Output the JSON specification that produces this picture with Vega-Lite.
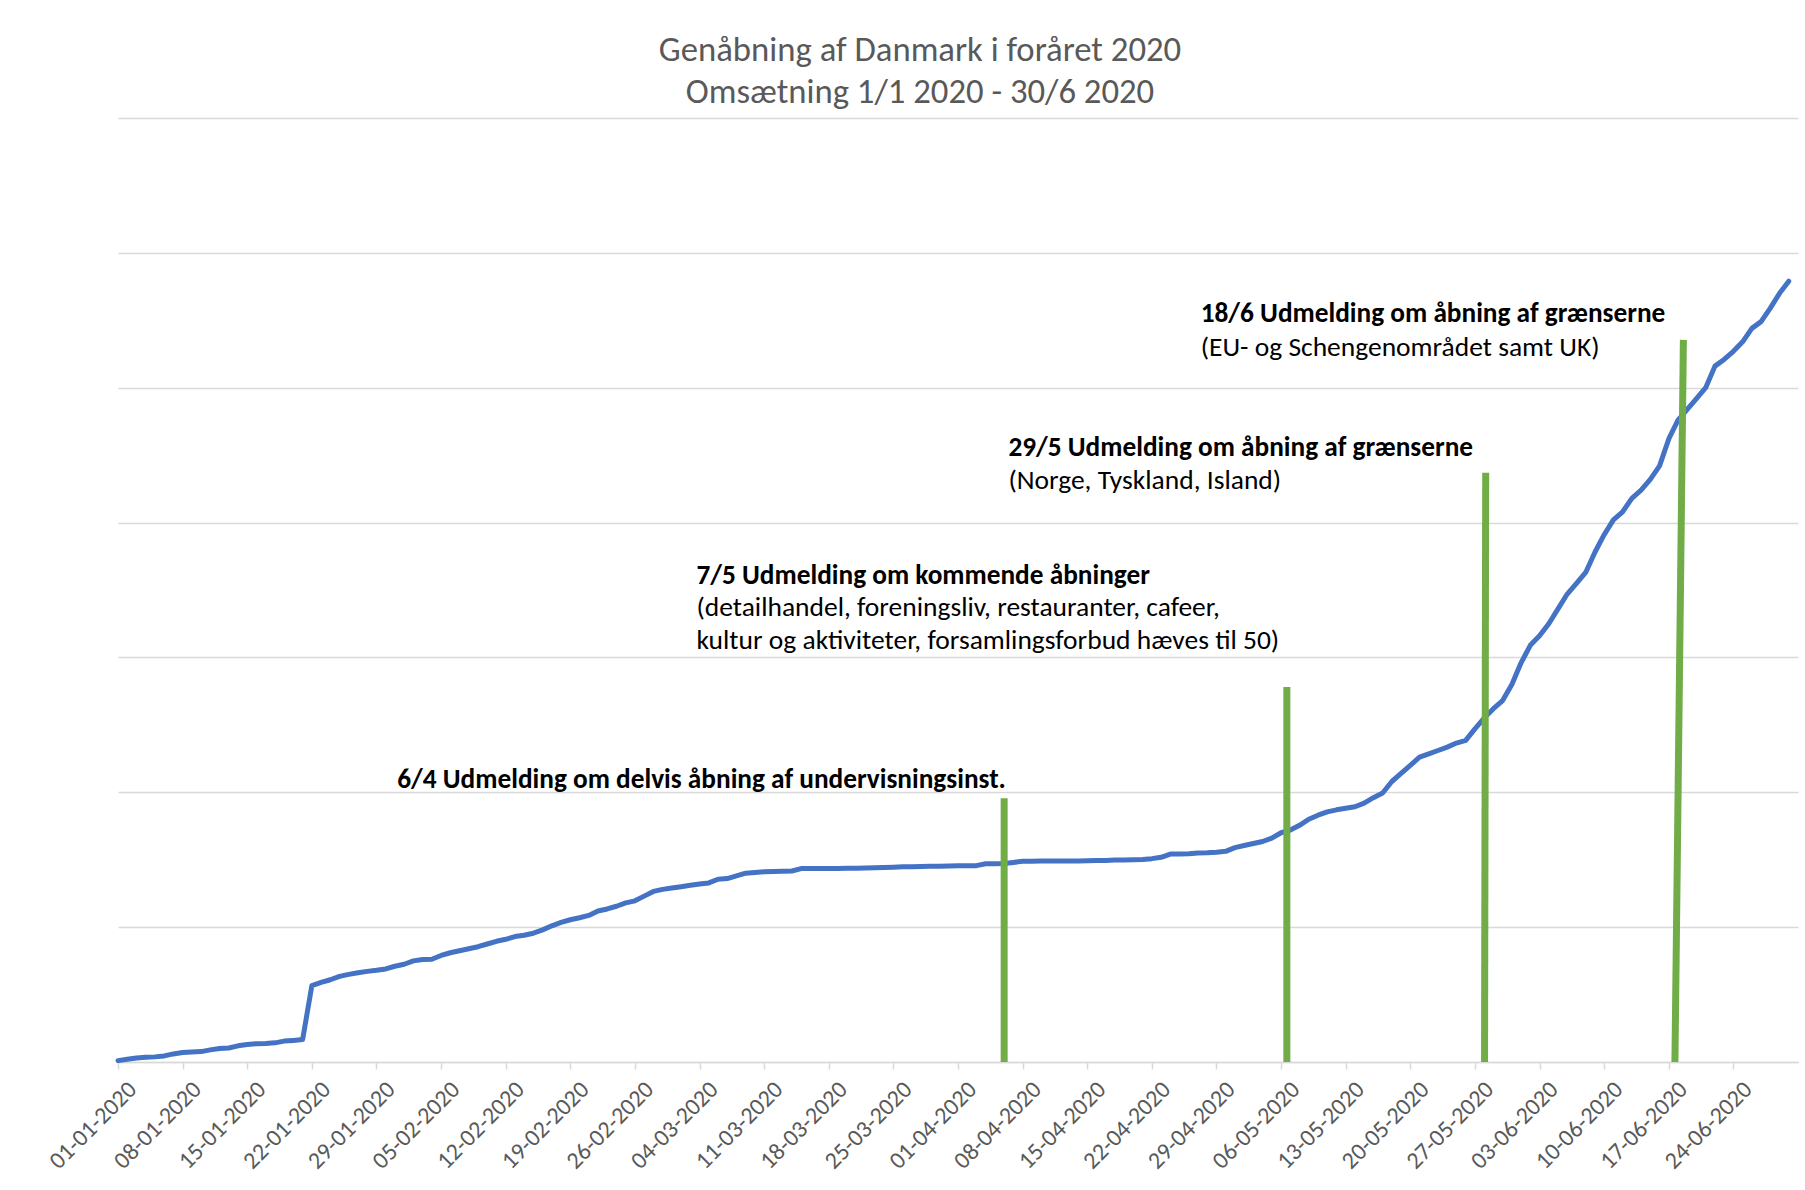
{
  "$schema": "https://vega.github.io/schema/vega-lite/v6.json",
  "width": 1680,
  "height": 944,
  "autosize": {"type": "none"},
  "padding": {"left": 118, "top": 118, "right": 7, "bottom": 128},
  "background": "white",
  "config": {
    "view": {"stroke": null},
    "font": "Carlito, Calibri, Lato, sans-serif"
  },
  "title": {
    "text": ["Genåbning af Danmark i foråret 2020", "Omsætning 1/1 2020 - 30/6 2020"],
    "fontSize": 34.7,
    "fontWeight": "normal",
    "color": "#595959",
    "lineHeight": 42.5,
    "offset": 7,
    "dx": -38,
    "anchor": "middle",
    "font": "Carlito, Calibri, Lato, sans-serif"
  },
  "datasets": {
    "omsaetning": [
      {"date": "2020-01-01", "value": 0.1}, {"date": "2020-01-02", "value": 0.2}, {"date": "2020-01-03", "value": 0.3}, {"date": "2020-01-04", "value": 0.35}, {"date": "2020-01-05", "value": 0.38}, {"date": "2020-01-06", "value": 0.45}, {"date": "2020-01-07", "value": 0.6}, {"date": "2020-01-08", "value": 0.7}, {"date": "2020-01-09", "value": 0.75}, {"date": "2020-01-10", "value": 0.77}, {"date": "2020-01-11", "value": 0.9}, {"date": "2020-01-12", "value": 1.0}, {"date": "2020-01-13", "value": 1.04}, {"date": "2020-01-14", "value": 1.2}, {"date": "2020-01-15", "value": 1.3}, {"date": "2020-01-16", "value": 1.36}, {"date": "2020-01-17", "value": 1.38}, {"date": "2020-01-18", "value": 1.42}, {"date": "2020-01-19", "value": 1.55}, {"date": "2020-01-20", "value": 1.6}, {"date": "2020-01-21", "value": 1.66}, {"date": "2020-01-22", "value": 5.66}, {"date": "2020-01-23", "value": 5.9}, {"date": "2020-01-24", "value": 6.1}, {"date": "2020-01-25", "value": 6.35}, {"date": "2020-01-26", "value": 6.5}, {"date": "2020-01-27", "value": 6.62}, {"date": "2020-01-28", "value": 6.72}, {"date": "2020-01-29", "value": 6.8}, {"date": "2020-01-30", "value": 6.9}, {"date": "2020-01-31", "value": 7.1},
      {"date": "2020-02-01", "value": 7.25}, {"date": "2020-02-02", "value": 7.5}, {"date": "2020-02-03", "value": 7.6}, {"date": "2020-02-04", "value": 7.62}, {"date": "2020-02-05", "value": 7.9}, {"date": "2020-02-06", "value": 8.1}, {"date": "2020-02-07", "value": 8.25}, {"date": "2020-02-08", "value": 8.4}, {"date": "2020-02-09", "value": 8.55}, {"date": "2020-02-10", "value": 8.75}, {"date": "2020-02-11", "value": 8.95}, {"date": "2020-02-12", "value": 9.1}, {"date": "2020-02-13", "value": 9.3}, {"date": "2020-02-14", "value": 9.4}, {"date": "2020-02-15", "value": 9.55}, {"date": "2020-02-16", "value": 9.8}, {"date": "2020-02-17", "value": 10.1}, {"date": "2020-02-18", "value": 10.35}, {"date": "2020-02-19", "value": 10.55}, {"date": "2020-02-20", "value": 10.7}, {"date": "2020-02-21", "value": 10.87}, {"date": "2020-02-22", "value": 11.2}, {"date": "2020-02-23", "value": 11.35}, {"date": "2020-02-24", "value": 11.55}, {"date": "2020-02-25", "value": 11.8}, {"date": "2020-02-26", "value": 11.95}, {"date": "2020-02-27", "value": 12.3}, {"date": "2020-02-28", "value": 12.65}, {"date": "2020-02-29", "value": 12.8},
      {"date": "2020-03-01", "value": 12.9}, {"date": "2020-03-02", "value": 13.0}, {"date": "2020-03-03", "value": 13.1}, {"date": "2020-03-04", "value": 13.2}, {"date": "2020-03-05", "value": 13.28}, {"date": "2020-03-06", "value": 13.55}, {"date": "2020-03-07", "value": 13.6}, {"date": "2020-03-08", "value": 13.8}, {"date": "2020-03-09", "value": 14.0}, {"date": "2020-03-10", "value": 14.05}, {"date": "2020-03-11", "value": 14.1}, {"date": "2020-03-12", "value": 14.12}, {"date": "2020-03-13", "value": 14.14}, {"date": "2020-03-14", "value": 14.16}, {"date": "2020-03-15", "value": 14.34}, {"date": "2020-03-16", "value": 14.34}, {"date": "2020-03-17", "value": 14.34}, {"date": "2020-03-18", "value": 14.34}, {"date": "2020-03-19", "value": 14.35}, {"date": "2020-03-20", "value": 14.36}, {"date": "2020-03-21", "value": 14.37}, {"date": "2020-03-22", "value": 14.38}, {"date": "2020-03-23", "value": 14.4}, {"date": "2020-03-24", "value": 14.42}, {"date": "2020-03-25", "value": 14.45}, {"date": "2020-03-26", "value": 14.47}, {"date": "2020-03-27", "value": 14.48}, {"date": "2020-03-28", "value": 14.5}, {"date": "2020-03-29", "value": 14.51}, {"date": "2020-03-30", "value": 14.52}, {"date": "2020-03-31", "value": 14.53},
      {"date": "2020-04-01", "value": 14.55}, {"date": "2020-04-02", "value": 14.55}, {"date": "2020-04-03", "value": 14.56}, {"date": "2020-04-04", "value": 14.7}, {"date": "2020-04-05", "value": 14.7}, {"date": "2020-04-06", "value": 14.72}, {"date": "2020-04-07", "value": 14.8}, {"date": "2020-04-08", "value": 14.88}, {"date": "2020-04-09", "value": 14.89}, {"date": "2020-04-10", "value": 14.9}, {"date": "2020-04-11", "value": 14.9}, {"date": "2020-04-12", "value": 14.9}, {"date": "2020-04-13", "value": 14.9}, {"date": "2020-04-14", "value": 14.91}, {"date": "2020-04-15", "value": 14.92}, {"date": "2020-04-16", "value": 14.94}, {"date": "2020-04-17", "value": 14.95}, {"date": "2020-04-18", "value": 14.97}, {"date": "2020-04-19", "value": 14.98}, {"date": "2020-04-20", "value": 15.0}, {"date": "2020-04-21", "value": 15.02}, {"date": "2020-04-22", "value": 15.08}, {"date": "2020-04-23", "value": 15.18}, {"date": "2020-04-24", "value": 15.42}, {"date": "2020-04-25", "value": 15.43}, {"date": "2020-04-26", "value": 15.44}, {"date": "2020-04-27", "value": 15.5}, {"date": "2020-04-28", "value": 15.52}, {"date": "2020-04-29", "value": 15.56}, {"date": "2020-04-30", "value": 15.62},
      {"date": "2020-05-01", "value": 15.9}, {"date": "2020-05-02", "value": 16.05}, {"date": "2020-05-03", "value": 16.2}, {"date": "2020-05-04", "value": 16.35}, {"date": "2020-05-05", "value": 16.6}, {"date": "2020-05-06", "value": 17.0}, {"date": "2020-05-07", "value": 17.2}, {"date": "2020-05-08", "value": 17.55}, {"date": "2020-05-09", "value": 18.0}, {"date": "2020-05-10", "value": 18.3}, {"date": "2020-05-11", "value": 18.55}, {"date": "2020-05-12", "value": 18.7}, {"date": "2020-05-13", "value": 18.82}, {"date": "2020-05-14", "value": 18.93}, {"date": "2020-05-15", "value": 19.2}, {"date": "2020-05-16", "value": 19.6}, {"date": "2020-05-17", "value": 19.95}, {"date": "2020-05-18", "value": 20.8}, {"date": "2020-05-19", "value": 21.4}, {"date": "2020-05-20", "value": 22.0}, {"date": "2020-05-21", "value": 22.6}, {"date": "2020-05-22", "value": 22.85}, {"date": "2020-05-23", "value": 23.1}, {"date": "2020-05-24", "value": 23.35}, {"date": "2020-05-25", "value": 23.65}, {"date": "2020-05-26", "value": 23.85}, {"date": "2020-05-27", "value": 24.7}, {"date": "2020-05-28", "value": 25.5}, {"date": "2020-05-29", "value": 26.2}, {"date": "2020-05-30", "value": 26.8}, {"date": "2020-05-31", "value": 28.0},
      {"date": "2020-06-01", "value": 29.6}, {"date": "2020-06-02", "value": 30.9}, {"date": "2020-06-03", "value": 31.6}, {"date": "2020-06-04", "value": 32.5}, {"date": "2020-06-05", "value": 33.6}, {"date": "2020-06-06", "value": 34.7}, {"date": "2020-06-07", "value": 35.5}, {"date": "2020-06-08", "value": 36.3}, {"date": "2020-06-09", "value": 37.8}, {"date": "2020-06-10", "value": 39.1}, {"date": "2020-06-11", "value": 40.2}, {"date": "2020-06-12", "value": 40.8}, {"date": "2020-06-13", "value": 41.8}, {"date": "2020-06-14", "value": 42.4}, {"date": "2020-06-15", "value": 43.2}, {"date": "2020-06-16", "value": 44.2}, {"date": "2020-06-17", "value": 46.2}, {"date": "2020-06-18", "value": 47.6}, {"date": "2020-06-19", "value": 48.4}, {"date": "2020-06-20", "value": 49.2}, {"date": "2020-06-21", "value": 50.0}, {"date": "2020-06-22", "value": 51.6}, {"date": "2020-06-23", "value": 52.1}, {"date": "2020-06-24", "value": 52.7}, {"date": "2020-06-25", "value": 53.4}, {"date": "2020-06-26", "value": 54.4}, {"date": "2020-06-27", "value": 54.9}, {"date": "2020-06-28", "value": 55.9}, {"date": "2020-06-29", "value": 57.0}, {"date": "2020-06-30", "value": 57.9}
    ],
    "events": [
      {"start": "2020-04-06T00:00:00Z", "end": "2020-04-06T00:00:00Z", "top": 19.56, "base": 0},
      {"start": "2020-05-06T15:00:00Z", "end": "2020-05-06T15:00:00Z", "top": 27.8, "base": 0},
      {"start": "2020-05-28T01:00:00Z", "end": "2020-05-28T04:00:00Z", "top": 43.7, "base": 0},
      {"start": "2020-06-17T16:00:00Z", "end": "2020-06-18T14:00:00Z", "top": 53.55, "base": 0}
    ],
    "notes": [
      {"date": "2020-01-31T06:00:00Z", "value": 20.94, "text": "6/4 Udmelding om delvis åbning af undervisningsinst.", "kind": "bold"},
      {"date": "2020-03-03T16:00:00Z", "value": 36.03, "text": "7/5 Udmelding om kommende åbninger", "kind": "bold"},
      {"date": "2020-03-03T16:00:00Z", "value": 33.64, "text": "(detailhandel, foreningsliv, restauranter, cafeer,", "kind": "normal"},
      {"date": "2020-03-03T16:00:00Z", "value": 31.2, "text": "kultur og aktiviteter, forsamlingsforbud hæves til 50)", "kind": "normal"},
      {"date": "2020-04-06T11:00:00Z", "value": 45.5, "text": "29/5 Udmelding om åbning af grænserne", "kind": "bold"},
      {"date": "2020-04-06T11:00:00Z", "value": 43.1, "text": "(Norge, Tyskland, Island)", "kind": "normal"},
      {"date": "2020-04-27T07:00:00Z", "value": 55.48, "text": "18/6 Udmelding om åbning af grænserne", "kind": "bold"},
      {"date": "2020-04-27T07:00:00Z", "value": 52.92, "text": "(EU- og Schengenområdet samt UK)", "kind": "normal"}
    ]
  },
  "layer": [
    {
      "data": {"name": "omsaetning"},
      "mark": {"type": "line", "color": "#4472C4", "strokeWidth": 5, "strokeCap": "round", "strokeJoin": "round"},
      "encoding": {
        "x": {
          "field": "date",
          "type": "temporal",
          "scale": {"type": "utc", "domain": [{"year": 2020, "month": 1, "date": 1, "utc": true}, {"year": 2020, "month": 7, "date": 1, "utc": true}]},
          "axis": {
            "title": null,
            "values": [
              {"year": 2020, "month": 1, "date": 1, "utc": true}, {"year": 2020, "month": 1, "date": 8, "utc": true}, {"year": 2020, "month": 1, "date": 15, "utc": true}, {"year": 2020, "month": 1, "date": 22, "utc": true}, {"year": 2020, "month": 1, "date": 29, "utc": true},
              {"year": 2020, "month": 2, "date": 5, "utc": true}, {"year": 2020, "month": 2, "date": 12, "utc": true}, {"year": 2020, "month": 2, "date": 19, "utc": true}, {"year": 2020, "month": 2, "date": 26, "utc": true},
              {"year": 2020, "month": 3, "date": 4, "utc": true}, {"year": 2020, "month": 3, "date": 11, "utc": true}, {"year": 2020, "month": 3, "date": 18, "utc": true}, {"year": 2020, "month": 3, "date": 25, "utc": true},
              {"year": 2020, "month": 4, "date": 1, "utc": true}, {"year": 2020, "month": 4, "date": 8, "utc": true}, {"year": 2020, "month": 4, "date": 15, "utc": true}, {"year": 2020, "month": 4, "date": 22, "utc": true}, {"year": 2020, "month": 4, "date": 29, "utc": true},
              {"year": 2020, "month": 5, "date": 6, "utc": true}, {"year": 2020, "month": 5, "date": 13, "utc": true}, {"year": 2020, "month": 5, "date": 20, "utc": true}, {"year": 2020, "month": 5, "date": 27, "utc": true},
              {"year": 2020, "month": 6, "date": 3, "utc": true}, {"year": 2020, "month": 6, "date": 10, "utc": true}, {"year": 2020, "month": 6, "date": 17, "utc": true}, {"year": 2020, "month": 6, "date": 24, "utc": true}
            ],
            "format": "%d-%m-%Y",
            "labelAngle": -45,
            "labelFontSize": 24,
            "labelColor": "#595959",
            "labelOverlap": false,
            "labelFlush": false,
            "labelPadding": 8,
            "labelOffset": 6,
            "tickColor": "#d9d9d9",
            "tickSize": 7,
            "tickWidth": 1.5,
            "domainColor": "#d9d9d9",
            "domainWidth": 1.5,
            "grid": false
          }
        },
        "y": {
          "field": "value",
          "type": "quantitative",
          "scale": {"domain": [0, 70], "nice": false},
          "axis": {
            "title": null,
            "labels": false,
            "ticks": false,
            "domain": false,
            "grid": true,
            "gridColor": "#d9d9d9",
            "gridWidth": 1.3,
            "values": [0, 10, 20, 30, 40, 50, 60, 70]
          }
        }
      }
    },
    {
      "data": {"name": "events"},
      "mark": {"type": "rule", "color": "#70AD47", "strokeWidth": 7},
      "encoding": {
        "x": {"field": "start", "type": "temporal"},
        "x2": {"field": "end"},
        "y": {"field": "base", "type": "quantitative"},
        "y2": {"field": "top"}
      }
    },
    {
      "data": {"name": "notes"},
      "transform": [{"filter": "datum.kind === 'bold'"}],
      "mark": {"type": "text", "align": "left", "baseline": "middle", "fontSize": 27.3, "fontWeight": "bold", "color": "#000000"},
      "encoding": {
        "x": {"field": "date", "type": "temporal"},
        "y": {"field": "value", "type": "quantitative"},
        "text": {"field": "text"}
      }
    },
    {
      "data": {"name": "notes"},
      "transform": [{"filter": "datum.kind === 'normal'"}],
      "mark": {"type": "text", "align": "left", "baseline": "middle", "fontSize": 27.5, "fontWeight": "normal", "color": "#000000"},
      "encoding": {
        "x": {"field": "date", "type": "temporal"},
        "y": {"field": "value", "type": "quantitative"},
        "text": {"field": "text"}
      }
    }
  ]
}
